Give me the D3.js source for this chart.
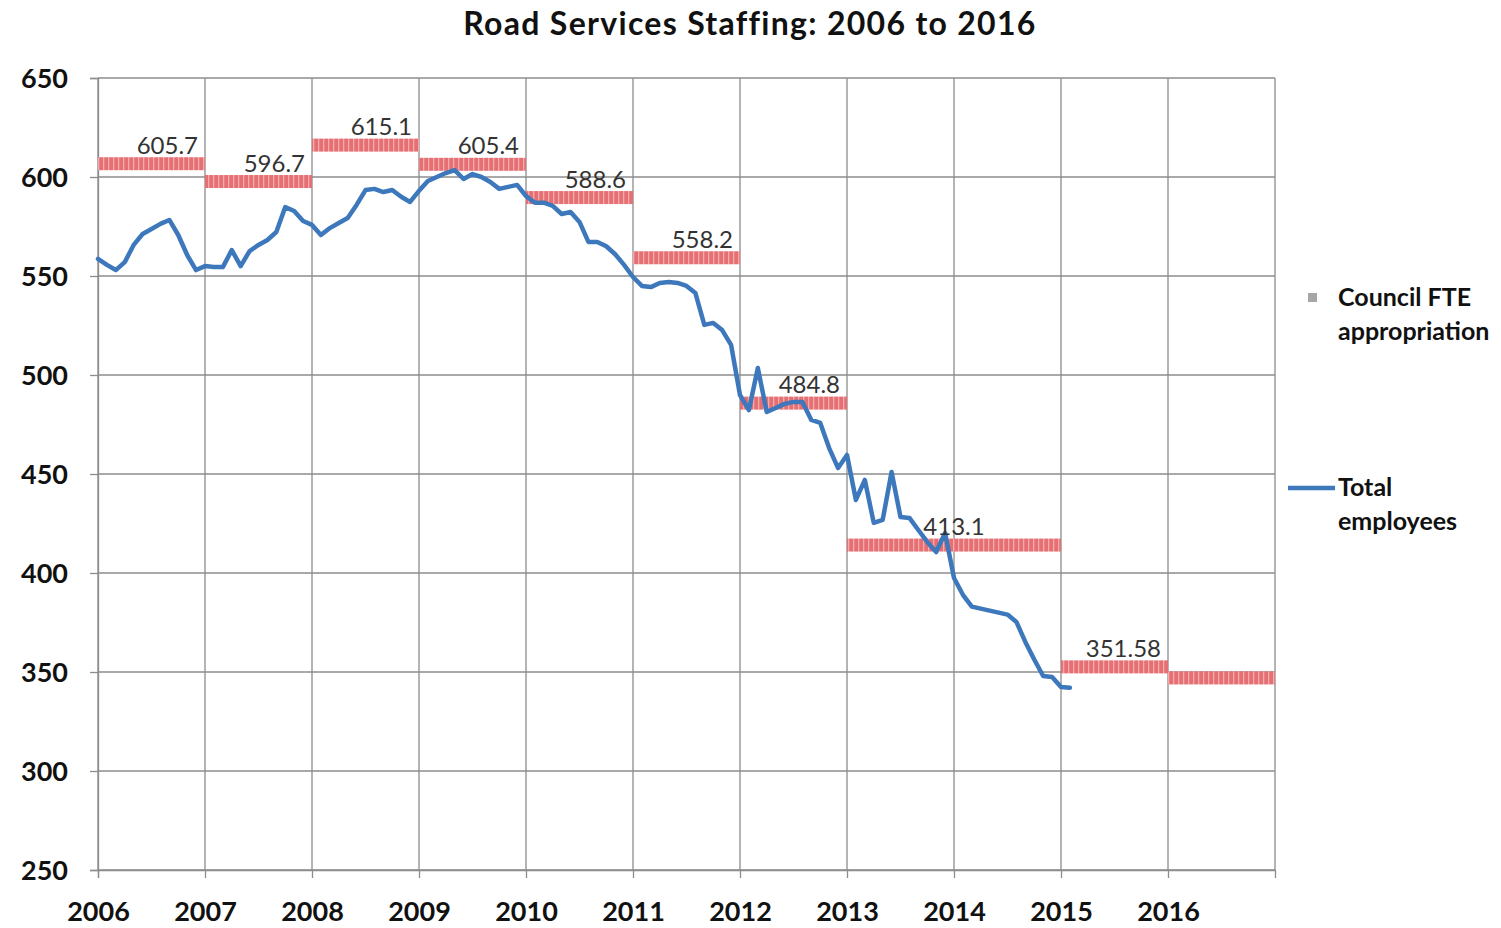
<!DOCTYPE html>
<html>
<head>
<meta charset="utf-8">
<script src="https://cdn.jsdelivr.net/npm/d3@7"></script>
<style>
  html, body { margin: 0; padding: 0; background: #fff; }
  svg { display: block; }
</style>
</head>
<body>
<svg id="chart" width="1501" height="928"></svg>
<script>
// ---------- DATA ----------
const chartTitle = "Road Services Staffing: 2006 to 2016";
const yearTicks = [2006, 2007, 2008, 2009, 2010, 2011, 2012, 2013, 2014, 2015, 2016];
const valueTicks = [250, 300, 350, 400, 450, 500, 550, 600, 650];

// Council FTE appropriation (step segments)
const fteStart = [2006, 2007, 2008, 2009, 2010, 2011, 2012, 2013, 2015, 2016];
const fteEnd   = [2007, 2008, 2009, 2010, 2011, 2012, 2013, 2015, 2016, 2017];
const fteValue = [605.7, 596.7, 615.1, 605.4, 588.6, 558.2, 484.8, 413.1, 351.58, 346];
const fteLabel = ["605.7", "596.7", "615.1", "605.4", "588.6", "558.2", "484.8", "413.1", "351.58", ""];

// Total employees, monthly from January 2006
const employeesStartYear = 2006;
const employees = [
  558.6, 555.6, 553.0, 557.0, 565.7, 571.2, 573.7, 576.3, 578.3, 570.7, 560.6, 553.0,
  555.0, 554.5, 554.5, 563.1, 555.0, 562.6, 565.7, 568.2, 572.2, 584.8, 582.8, 577.8,
  575.8, 570.7, 574.2, 576.8, 579.3, 585.9, 593.4, 594.0, 592.4, 593.4, 590.0, 587.4,
  593.0, 598.0, 600.0, 602.0, 603.5, 599.0, 601.5, 600.0, 597.5, 594.0, 595.0, 596.0,
  590.4, 587.0, 587.0, 585.4, 581.3, 582.3, 577.3, 567.2, 567.2, 565.0, 561.0, 555.6,
  549.5, 545.0, 544.4, 546.5, 547.0, 546.5, 545.0, 541.4, 525.3, 526.3, 522.7, 515.2,
  489.9, 482.3, 503.5, 481.3, 483.3, 485.4, 486.4, 486.4, 477.3, 475.8, 463.1, 453.0,
  459.6, 436.9, 447.0, 425.3, 426.8, 451.0, 428.3, 427.8, 421.7, 415.7, 410.6, 420.2,
  397.5, 389.0, 383.0, 382.0, 381.0, 380.0, 379.0, 375.3, 365.2, 356.3, 348.0, 347.5,
  342.4, 342.0
];

const legendFte = ["Council FTE", "appropriation"];
const legendEmp = ["Total", "employees"];

// ---------- LAYOUT ----------
const svg = d3.select("#chart");
const plotL = 98, plotR = 1275, plotT = 78, plotB = 870;

const x = d3.scaleLinear().domain([2006, 2017]).range([plotL, plotR]);
const y = d3.scaleLinear().domain([250, 650]).range([plotB, plotT]);

const fontBold = "Lato, 'Open Sans', sans-serif";
const gridColor = "#8c8c8c";
const lineColor = "#3c78bb";

// pattern for FTE bars
const defs = svg.append("defs");
const pat = defs.append("pattern")
  .attr("id", "ftePat").attr("patternUnits", "userSpaceOnUse")
  .attr("width", 5).attr("height", 13);
pat.append("rect").attr("width", 5).attr("height", 13).attr("fill", "#e56f73");
pat.append("rect").attr("x", 3).attr("width", 1.3).attr("height", 13).attr("fill", "#f3abac");

// title
svg.append("text")
  .attr("x", 750).attr("y", 35)
  .attr("text-anchor", "middle")
  .attr("font-family", fontBold).attr("font-weight", 700)
  .attr("font-size", 32).attr("letter-spacing", 1.3).attr("fill", "#111")
  .text(chartTitle);

// gridlines
const grid = svg.append("g");
grid.selectAll("line.h").data(valueTicks).join("line")
  .attr("x1", plotL).attr("x2", plotR)
  .attr("y1", d => y(d)).attr("y2", d => y(d))
  .attr("stroke", gridColor).attr("stroke-width", 1.3);
grid.selectAll("line.v").data(yearTicks.concat([2017])).join("line")
  .attr("y1", plotT).attr("y2", plotB)
  .attr("x1", d => x(d)).attr("x2", d => x(d))
  .attr("stroke", gridColor).attr("stroke-width", 1.3);

// axes
const yAxis = d3.axisLeft(y).tickValues(valueTicks).tickSize(8).tickPadding(22).tickFormat(d3.format("d"));
const gy = svg.append("g").attr("transform", `translate(${plotL},0)`).call(yAxis);
gy.select(".domain").attr("stroke", gridColor).attr("stroke-width", 1.3);
gy.selectAll(".tick line").attr("stroke", gridColor).attr("stroke-width", 1.3);
gy.selectAll("text").attr("font-family", fontBold).attr("font-weight", 700)
  .attr("font-size", 27).attr("fill", "#111").attr("dy", "0.35em");

const xAxis = d3.axisBottom(x).tickValues(yearTicks).tickSize(8).tickPadding(24).tickFormat(d3.format("d"));
const gx = svg.append("g").attr("transform", `translate(0,${plotB})`).call(xAxis);
gx.select(".domain").attr("stroke", gridColor).attr("stroke-width", 1.3);
gx.selectAll(".tick line").attr("stroke", gridColor).attr("stroke-width", 1.3);
gx.selectAll("text").attr("font-family", fontBold).attr("font-weight", 700)
  .attr("font-size", 27).attr("fill", "#111").attr("dy", "0.72em");

// FTE bars
const fte = fteStart.map((s, i) => ({ s, e: fteEnd[i], v: fteValue[i], label: fteLabel[i] }));
const barH = 13;
svg.append("g").selectAll("rect").data(fte).join("rect")
  .attr("x", d => x(d.s)).attr("width", d => x(d.e) - x(d.s))
  .attr("y", d => y(d.v) - 2 - barH / 2).attr("height", barH)
  .attr("fill", "url(#ftePat)");

// employees line
const empData = employees.map((v, i) => ({ t: employeesStartYear + i / 12, v }));
const line = d3.line().x(d => x(d.t)).y(d => y(d.v));
svg.append("path").datum(empData)
  .attr("d", line).attr("fill", "none")
  .attr("stroke", lineColor).attr("stroke-width", 4.5)
  .attr("stroke-linejoin", "round").attr("stroke-linecap", "round");

// FTE labels
svg.append("g").selectAll("text").data(fte.filter(d => d.label)).join("text")
  .attr("x", d => (d.e - d.s) > 1 ? x((d.s + d.e) / 2) : x(d.e) - 7)
  .attr("y", d => y(d.v) - 12)
  .attr("text-anchor", d => (d.e - d.s) > 1 ? "middle" : "end")
  .attr("font-family", "Lato, 'Open Sans', sans-serif")
  .attr("font-size", 24).attr("fill", "#333")
  .text(d => d.label);

// legend
const lg = svg.append("g").attr("font-family", fontBold).attr("font-weight", 700)
  .attr("font-size", 25).attr("fill", "#111");
lg.append("rect").attr("x", 1308).attr("y", 293).attr("width", 9).attr("height", 9).attr("fill", "#a6a6a6");
lg.selectAll("text.f").data(legendFte).join("text")
  .attr("x", 1338).attr("y", (d, i) => 306 + i * 34).text(d => d);
lg.append("line").attr("x1", 1288).attr("x2", 1335).attr("y1", 488).attr("y2", 488)
  .attr("stroke", lineColor).attr("stroke-width", 4.5);
lg.selectAll("text.e").data(legendEmp).join("text")
  .attr("x", 1338).attr("y", (d, i) => 496 + i * 34).text(d => d);
</script>
</body>
</html>
